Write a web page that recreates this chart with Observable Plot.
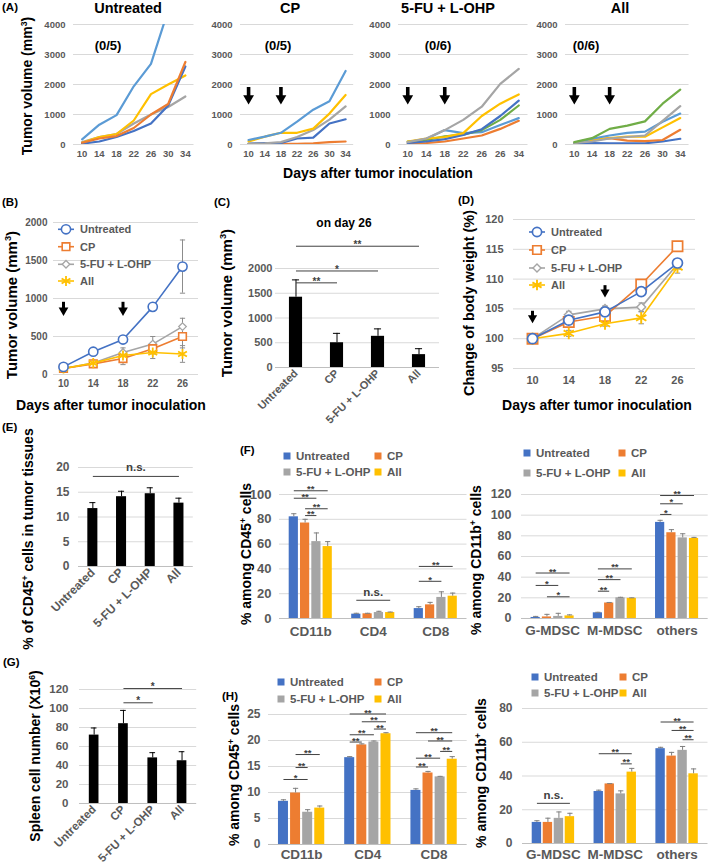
<!DOCTYPE html>
<html><head><meta charset="utf-8">
<script src="https://cdn.jsdelivr.net/npm/d3@7"></script>
<script src="https://cdn.jsdelivr.net/npm/@observablehq/plot@0.6"></script>
<style>
html,body{margin:0;padding:0;background:#fff;}
#root{position:relative;width:709px;height:865px;overflow:hidden;background:#fff;font-family:"Liberation Sans",Arial,Helvetica,sans-serif;}
.t{position:absolute;white-space:nowrap;line-height:1;}
.t sup{font-size:0.62em;vertical-align:0.55em;line-height:0;}
</style></head>
<body><div id="root"></div>
<script>
// ---------------- DATA ----------------
const groups = ["Untreated", "CP", "5-FU + L-OHP", "All"];
const groupColors = ["#4472C4", "#ED7D31", "#A5A5A5", "#FFC000"];
const mouseColor = {lightblue: "#5B9BD5", darkblue: "#4472C4", orange: "#ED7D31", gray: "#A5A5A5", yellow: "#FFC000", green: "#70AD47"};

// (A) individual tumour growth, days 10..34
const A_tickLabels = ["10", "14", "18", "22", "26", "30", "34"];
const A_tickLabels5FU = ["10", "14", "18", "22", "26", "26", "34"];
const A_yTicks = [0, 1000, 2000, 3000, 4000];
const A_untreatedKeys = ["gray", "yellow", "darkblue", "orange", "lightblue"];
const A_untreated = [
  [80, 250, 350, 700, 1000, 1250, 1600],
  [60, 250, 350, 800, 1680, 2000, 2300],
  [30, 100, 250, 450, 700, 1300, 2600],
  [60, 200, 280, 550, 1000, 1350, 2750],
  [170, 660, 980, 1940, 2690, 4470]
];
const A_cpKeys = ["orange", "darkblue", "gray", "yellow", "lightblue"];
const A_cp = [
  [10, 15, 20, 20, 40, 80, 100],
  [30, 50, 50, 200, 230, 700, 840],
  [20, 40, 80, 250, 480, 830, 1270],
  [100, 260, 390, 390, 530, 1030, 1650],
  [150, 260, 390, 760, 1160, 1440, 2450]
];
const A_5fuKeys = ["orange", "lightblue", "green", "darkblue", "yellow", "gray"];
const A_5fu = [
  [30, 50, 100, 200, 300, 520, 790],
  [80, 180, 480, 380, 410, 650, 880],
  [100, 150, 270, 330, 480, 820, 1300],
  [50, 100, 180, 320, 510, 950, 1460],
  [100, 200, 250, 380, 950, 1360, 1670],
  [80, 200, 480, 820, 1260, 2020, 2520]
];
const A_allKeys = ["darkblue", "orange", "yellow", "lightblue", "gray", "green"];
const A_all = [
  [30, 50, 40, 40, 40, 100, 190],
  [60, 150, 210, 130, 110, 150, 490],
  [60, 150, 210, 260, 260, 570, 880],
  [60, 190, 300, 390, 430, 760, 1030],
  [50, 100, 200, 250, 300, 790, 1280],
  [80, 210, 520, 630, 770, 1360, 1830]
];
const A_arrowIdx = [0, 2];

// (B) mean tumour volume
const B_days = [10, 14, 18, 22, 26];
const B_mean = [
  [100, 300, 460, 890, 1420],
  [80, 140, 210, 340, 500],
  [80, 150, 290, 400, 630],
  [80, 150, 250, 290, 270]
];
const B_err = [
  [20, 30, 40, 40, 350],
  [10, 20, 80, 70, 150],
  [10, 20, 60, 100, 110],
  [10, 20, 40, 80, 110]
];
const B_yTicks = [0, 500, 1000, 1500, 2000];
const B_arrowDays = [10, 18];

// (C) tumour volume on day 26
const C_vals = [1420, 500, 630, 260];
const C_errs = [350, 190, 150, 120];
const C_yTicks = [0, 500, 1000, 1500, 2000];
const C_sig = [[0, 3, 2450, "**"], [0, 2, 1950, "*"], [0, 1, 1710, "**"]];

// (D) body weight change
const D_days = [10, 14, 18, 22, 26];
const D_mean = [
  [100, 103.1, 104.5, 107.9, 112.7],
  [100, 102.8, 103.8, 109.1, 115.5],
  [100, 104.0, 105.0, 105.3, 112.5],
  [100, 100.9, 102.5, 103.5, 112.0]
];
const D_err = [
  [0, 0.4, 0.5, 0.5, 0.6],
  [0, 0.5, 0.5, 0.6, 0.6],
  [0, 0.6, 0.5, 0.7, 0.8],
  [0, 0.5, 0.4, 1.0, 1.0]
];
const D_yTicks = [95, 100, 105, 110, 115, 120];
const D_arrows = [{day: 10, top: 104.6, head: 103.5}, {day: 18, top: 108.9, head: 107.8}];

// (E) CD45+ cells in tumour
const E_vals = [11.7, 14.1, 14.7, 12.8];
const E_errs = [1.2, 1.1, 1.2, 1.0];
const E_yTicks = [0, 5, 10, 15, 20];
const E_sig = [[0, 3, 18.2, "n.s."]];

// (F) tumour subsets
const F1_cats = ["CD11b", "CD4", "CD8"];
const F1_vals = [[82, 3.5, 8], [77, 3.8, 11], [62, 4.8, 17], [58, 4.8, 18]];
const F1_errs = [[2.5, 0.7, 1.5], [3, 0.4, 2], [7, 1, 4.5], [4, 0.4, 2.5]];
const F1_yTicks = [0, 20, 40, 60, 80, 100];
const F1_sig = [[0, 0, 3, 103, "**"], [0, 0, 2, 97, "**"], [0, 1, 3, 88.5, "**"], [0, 1, 2, 83, "**"],
  [1, 0, 3, 14.7, "n.s."], [2, 0, 3, 42, "**"], [2, 0, 2, 30, "*"]];
const F2_cats = ["G-MDSC", "M-MDSC", "others"];
const F2_vals = [[1, 5.5, 93], [1.5, 15, 83], [2, 20, 78], [2.5, 19.5, 77.5]];
const F2_errs = [[1, 0.5, 2], [2.5, 0.5, 3], [3, 0.5, 4], [1, 0.5, 1]];
const F2_yTicks = [0, 20, 40, 60, 80, 100, 120];
const F2_sig = [[0, 0, 3, 44, "**"], [0, 0, 2, 32, "*"], [0, 1, 3, 21, "*"],
  [1, 0, 3, 48, "**"], [1, 0, 2, 37.6, "**"], [1, 0, 1, 26.4, "**"],
  [2, 0, 3, 119, "**"], [2, 0, 2, 111, "*"], [2, 0, 1, 100.7, "*"]];

// (G) spleen cell number
const G_vals = [72, 84, 48, 45];
const G_errs = [7.5, 14, 5.5, 9.5];
const G_yTicks = [0, 20, 40, 60, 80, 100, 120];
const G_sig = [[1, 3, 121, "*"], [1, 2, 106, "*"]];

// (H) spleen subsets
const H1_cats = ["CD11b", "CD4", "CD8"];
const H1_vals = [[8.3, 16.7, 10.4], [9.9, 19.15, 13.75], [6.2, 19.7, 13.0], [7.0, 21.3, 16.4]];
const H1_errs = [[0.3, 0.2, 0.3], [0.9, 0.2, 0.3], [0.5, 0.2, 0.1], [0.4, 0.2, 0.5]];
const H1_yTicks = [0, 5, 10, 15, 20, 25];
const H1_sig = [[0, 0, 2, 12.5, "*"], [0, 1, 2, 14.8, "**"], [0, 1, 3, 17.3, "**"],
  [1, 0, 3, 25.1, "**"], [1, 1, 3, 23.6, "**"], [1, 2, 3, 22.2, "**"], [1, 0, 2, 21.1, "**"], [1, 0, 1, 19.7, "**"],
  [2, 0, 3, 21.5, "**"], [2, 1, 3, 19.9, "**"], [2, 2, 3, 17.9, "**"], [2, 0, 2, 16.6, "**"], [2, 0, 1, 14.9, "**"]];
const H2_cats = ["G-MDSC", "M-MDSC", "others"];
const H2_vals = [[12.5, 30.8, 56.2], [12.5, 35.3, 51.8], [14.9, 29.4, 55.2], [15.9, 42.3, 41.3]];
const H2_errs = [[1, 0.8, 0.8], [2.5, 0.2, 2.2], [3.8, 1.8, 2.3], [2, 2.2, 2.9]];
const H2_yTicks = [0, 20, 40, 60, 80];
const H2_sig = [[0, 0, 3, 23.8, "n.s."], [1, 0, 3, 53.2, "**"], [1, 2, 3, 47.2, "**"],
  [2, 0, 3, 72, "**"], [2, 1, 3, 67, "**"], [2, 2, 3, 61.5, "**"]];

// ---------------- HELPERS ----------------
const FONT = '"Liberation Sans", Arial, Helvetica, sans-serif';
const root = document.getElementById("root");
const GRID = "#d9d9d9", AXIS = "#bfbfbf", TICK = "#595959", SIG = "#404040";
const plain = d => String(d);

function label(html, x, y, size, {rotate = 0, anchor = "middle", color = "#000", weight = "bold"} = {}) {
  const d = document.createElement("div");
  d.className = "t";
  d.innerHTML = html;
  d.style.left = x + "px";
  d.style.top = y + "px";
  d.style.fontSize = size + "px";
  d.style.fontWeight = weight;
  d.style.color = color;
  const tx = anchor === "start" ? "0" : anchor === "end" ? "-100%" : "-50%";
  d.style.transform = `translate(${tx}, -50%) rotate(${rotate}deg)`;
  root.appendChild(d);
}

function mount(opts, x0, y0, x1, y1, m, fs) {
  const [ml, mt, mr, mb] = m;
  const svg = Plot.plot({
    ...opts,
    width: x1 - x0 + ml + mr,
    height: y1 - y0 + mt + mb,
    marginLeft: ml, marginTop: mt, marginRight: mr, marginBottom: mb,
    style: {background: "transparent", overflow: "visible", fontFamily: FONT, fontWeight: "bold", color: TICK, fontSize: fs + "px"}
  });
  svg.style.position = "absolute";
  svg.style.left = (x0 - ml) + "px";
  svg.style.top = (y0 - mt) + "px";
  svg.style.maxWidth = "none";
  root.appendChild(svg);
}

function arrowMarks(data, r, sw) {
  return [
    Plot.ruleX(data, {x: "x", y1: "top", y2: "head", stroke: "#000", strokeWidth: sw}),
    Plot.dot(data, {x: "x", y: "head", symbol: "triangle", r, rotate: 180, fill: "#000", stroke: "none"})
  ];
}

// ---------------- (A) ----------------
function panelA(keys, values, tickLabels, withArrows, x0, x1) {
  const data = values.flatMap((vals, s) => vals.map((v, i) => ({s, i, v, c: mouseColor[keys[s]]})));
  const marks = [
    Plot.ruleY(A_yTicks, {stroke: GRID}),
    Plot.line(data, {x: "i", y: "v", z: "s", stroke: "c", strokeWidth: 2.2, clip: true})
  ];
  if (withArrows) marks.push(...arrowMarks(A_arrowIdx.map(x => ({x, top: 1900, head: 1540})), 4, 3.6));
  mount({
    color: {type: "identity"},
    x: {domain: [-0.5, 6.5], ticks: d3.range(7), tickFormat: i => tickLabels[i], tickSize: 0, tickPadding: 6, label: null},
    y: {domain: [0, 4000], ticks: A_yTicks, tickFormat: plain, tickSize: 0, tickPadding: 8, label: null},
    marks
  }, x0, 24, x1, 144, [40, 4, 4, 20], 9.5);
}
panelA(A_untreatedKeys, A_untreated, A_tickLabels, false, 73.1, 193.6);
panelA(A_cpKeys, A_cp, A_tickLabels, true, 239.9, 353.1);
panelA(A_5fuKeys, A_5fu, A_tickLabels5FU, true, 397.75, 527.25);
panelA(A_allKeys, A_all, A_tickLabels, true, 565.2, 688.8);

// ---------------- (B) & (D) line panels ----------------
function linePanel({days, means, errs, x0, x1, y0, y1, xdom, ydom, yticks, syms, arrows, arrowR, capHalf, tp, txp, fs}) {
  const rows = means.flatMap((arr, g) => arr.map((v, i) => ({g, day: days[i], v, lo: v - errs[g][i], hi: v + errs[g][i], c: groupColors[g]})));
  const marks = [
    Plot.ruleY(yticks, {stroke: GRID}),
    Plot.ruleX(rows, {x: "day", y1: "lo", y2: "hi", stroke: "#8c8c8c"}),
    Plot.link(rows, {x1: d => d.day - capHalf, x2: d => d.day + capHalf, y1: "hi", y2: "hi", stroke: "#8c8c8c"}),
    Plot.link(rows, {x1: d => d.day - capHalf, x2: d => d.day + capHalf, y1: "lo", y2: "lo", stroke: "#8c8c8c"})
  ];
  for (const g of [2, 1, 3, 0]) {
    const sub = rows.filter(d => d.g === g);
    const [symbol, r, sw] = syms[g];
    marks.push(Plot.line(sub, {x: "day", y: "v", stroke: groupColors[g], strokeWidth: 1.6}));
    marks.push(Plot.dot(sub, {x: "day", y: "v", symbol, r, stroke: groupColors[g], strokeWidth: sw, fill: symbol === "asterisk" ? "none" : "white"}));
  }
  marks.push(...arrowMarks(arrows, arrowR, 3));
  mount({
    color: {type: "identity"},
    x: {domain: xdom, ticks: days, tickSize: 0, tickPadding: txp, label: null},
    y: {domain: ydom, ticks: yticks, tickFormat: plain, tickSize: 0, tickPadding: tp, label: null},
    marks
  }, x0, y0, x1, y1, [40, 10, 6, 22], fs);
}

linePanel({
  days: B_days, means: B_mean, errs: B_err, x0: 53, x1: 198, y0: 222, y1: 374,
  xdom: [8.656, 28.15], ydom: [0, 2000], yticks: B_yTicks,
  syms: [["circle", 4.6, 1.6], ["square", 4.3, 1.6], ["diamond2", 3.4, 1.3], ["asterisk", 4.8, 1.8]],
  arrows: B_arrowDays.map(x => ({x, top: 950, head: 845})), arrowR: 3.6, capHalf: 0.35, tp: 6, txp: 5, fs: 10
});

linePanel({
  days: D_days, means: D_mean, errs: D_err, x0: 513, x1: 695, y0: 219, y1: 368,
  xdom: [7.9, 27.99], ydom: [95, 120], yticks: D_yTicks,
  syms: [["circle", 5, 1.7], ["square", 5.8, 1.7], ["diamond2", 4, 1.4], ["asterisk", 5.6, 1.9]],
  arrows: D_arrows.map(d => ({x: d.day, top: d.top, head: d.head})), arrowR: 3.4, capHalf: 0.3, tp: 10, txp: 8, fs: 11
});

// ---------------- bar charts with one bar per group ----------------
function bandBars({vals, errs, sig, x0, x1, y0, y1, ydom, yticks, pi, po, tp, fs, capInset, sigFs, mb}) {
  const cats = groups;
  const data = cats.map((c, i) => ({c, v: vals[i], t: vals[i] + errs[i]}));
  const step = (x1 - x0) / (cats.length - pi + 2 * po);
  const S = sig.map(([a, b, lvl, t]) => ({a: cats[a], b: cats[b], ia: a, ib: b, lvl, t}));
  const marks = [
    Plot.ruleY(yticks.filter(d => d > 0), {stroke: GRID}),
    Plot.ruleY([0], {stroke: AXIS}),
    Plot.barY(data, {x: "c", y: "v", fill: "#000"}),
    Plot.ruleX(data, {x: "c", y1: "v", y2: "t", stroke: "#000"}),
    Plot.tickY(data, {x: "c", y: "t", stroke: "#000", insetLeft: capInset, insetRight: capInset}),
    Plot.link(S, {x1: "a", x2: "b", y1: "lvl", y2: "lvl", stroke: SIG})
  ];
  for (const s of S) {
    const ns = s.t === "n.s.";
    marks.push(Plot.text([s], {x: "a", y: "lvl", text: "t", dx: (s.ib - s.ia) * step / 2, dy: ns ? -9 : -1.5,
      fontSize: ns ? 11.5 : sigFs, fill: SIG}));
  }
  mount({
    x: {domain: cats, paddingInner: pi, paddingOuter: po, round: false, tickRotate: -45, tickSize: 0, tickPadding: 4, label: null},
    y: {domain: ydom, ticks: yticks, tickFormat: plain, tickSize: 0, tickPadding: tp, label: null},
    marks
  }, x0, y0, x1, y1, [40, 30, 6, mb], fs);
}

bandBars({vals: C_vals, errs: C_errs, sig: C_sig, x0: 274.5, x1: 438.5, y0: 268, y1: 367,
  ydom: [0, 2000], yticks: C_yTicks, pi: 0.68, po: 0.34, tp: 3, fs: 11, capInset: 3, sigFs: 10, mb: 66});
bandBars({vals: E_vals, errs: E_errs, sig: E_sig, x0: 77.7, x1: 192.5, y0: 467, y1: 566,
  ydom: [0, 20], yticks: E_yTicks, pi: 0.65, po: 0.325, tp: 9, fs: 12, capInset: 2, sigFs: 10, mb: 66});
bandBars({vals: G_vals, errs: G_errs, sig: G_sig, x0: 79.4, x1: 196.6, y0: 689, y1: 803,
  ydom: [0, 120], yticks: G_yTicks, pi: 0.67, po: 0.335, tp: 11, fs: 11.5, capInset: 2, sigFs: 10, mb: 60});

// ---------------- grouped bar charts ----------------
function groupedBars({cats, vals, errs, sig, x0, x1, y0, y1, ydom, yticks, stepPx, hwPx, tp, fs, catFs, catDy}) {
  const unit = (x1 - x0) / 3;
  const st = stepPx / unit, hw = hwPx / unit, cw = 2.6 / unit;
  const pos = (g, s) => g + (s - 1.5) * st;
  const bars = vals.flatMap((arr, s) => arr.map((v, g) => ({s, g, v, t: v + errs[s][g], x: pos(g, s), c: groupColors[s]})));
  const S = sig.map(([g, a, b, lvl, t]) => ({xa: pos(g, a), xb: pos(g, b), lvl, t}));
  mount({
    color: {type: "identity"},
    x: {domain: [-0.5, 2.5], axis: null},
    y: {domain: ydom, ticks: yticks, tickFormat: plain, tickSize: 0, tickPadding: tp, label: null},
    marks: [
      Plot.ruleY(yticks.filter(d => d > 0), {stroke: GRID}),
      Plot.ruleY([0], {stroke: AXIS}),
      Plot.rectY(bars, {x1: d => d.x - hw, x2: d => d.x + hw, y1: 0, y2: "v", fill: "c"}),
      Plot.ruleX(bars, {x: "x", y1: "v", y2: "t", stroke: "#7f7f7f"}),
      Plot.link(bars, {x1: d => d.x - cw, x2: d => d.x + cw, y1: "t", y2: "t", stroke: "#7f7f7f"}),
      Plot.link(S, {x1: "xa", x2: "xb", y1: "lvl", y2: "lvl", stroke: SIG}),
      Plot.text(S.filter(d => d.t !== "n.s."), {x: d => (d.xa + d.xb) / 2, y: "lvl", text: "t", dy: -1.5, fontSize: 9.5, fill: SIG}),
      Plot.text(S.filter(d => d.t === "n.s."), {x: d => (d.xa + d.xb) / 2, y: "lvl", text: "t", dy: -8, fontSize: 11.5, fill: SIG}),
      Plot.text(cats, {x: (d, i) => i, frameAnchor: "bottom", dy: catDy, text: d => d, fontSize: catFs, fill: TICK})
    ]
  }, x0, y0, x1, y1, [45, 30, 1, 22], fs);
}

groupedBars({cats: F1_cats, vals: F1_vals, errs: F1_errs, sig: F1_sig, x0: 278.75, x1: 466.25, y0: 494, y1: 618,
  ydom: [0, 100], yticks: F1_yTicks, stepPx: 11.3, hwPx: 4.6, tp: 8, fs: 13, catFs: 13.5, catDy: 17});
groupedBars({cats: F2_cats, vals: F2_vals, errs: F2_errs, sig: F2_sig, x0: 520.9, x1: 707.6, y0: 494, y1: 618,
  ydom: [0, 120], yticks: F2_yTicks, stepPx: 11.3, hwPx: 4.6, tp: 10, fs: 12.5, catFs: 13.5, catDy: 17});
groupedBars({cats: H1_cats, vals: H1_vals, errs: H1_errs, sig: H1_sig, x0: 267.9, x1: 466.6, y0: 714, y1: 844,
  ydom: [0, 25], yticks: H1_yTicks, stepPx: 12.1, hwPx: 5, tp: 8, fs: 12, catFs: 13.5, catDy: 15});
groupedBars({cats: H2_cats, vals: H2_vals, errs: H2_errs, sig: H2_sig, x0: 522, x1: 707.5, y0: 708, y1: 843,
  ydom: [0, 80], yticks: H2_yTicks, stepPx: 11, hwPx: 4.7, tp: 10, fs: 12, catFs: 13.5, catDy: 15});

// ---------------- legends (overlay) ----------------
const overlay = d3.create("svg").attr("width", 709).attr("height", 865)
  .style("position", "absolute").style("left", "0px").style("top", "0px")
  .style("font-family", FONT).style("font-weight", "bold");

function lineLegend(cx, ys, fs, syms) {
  groups.forEach((g, i) => {
    const y = ys[i];
    overlay.append("line").attr("x1", cx - 8).attr("x2", cx + 8).attr("y1", y).attr("y2", y)
      .attr("stroke", groupColors[i]).attr("stroke-width", 1.6);
    const [type, r, sw] = syms[i];
    overlay.append("path").attr("transform", `translate(${cx},${y})`).attr("d", d3.symbol(type, Math.PI * r * r)())
      .attr("fill", type === d3.symbolAsterisk ? "none" : "white").attr("stroke", groupColors[i]).attr("stroke-width", sw);
    overlay.append("text").attr("x", cx + 14).attr("y", y).attr("dy", "0.36em").attr("font-size", fs)
      .attr("fill", TICK).text(g);
  });
}
lineLegend(66, [229.3, 246.7, 264.3, 281], 11,
  [[d3.symbolCircle, 4.6, 1.6], [d3.symbolSquare, 4.3, 1.6], [d3.symbolDiamond2, 3.4, 1.3], [d3.symbolAsterisk, 4.8, 1.8]]);
lineLegend(537, [232, 250, 268, 285], 11,
  [[d3.symbolCircle, 4.6, 1.7], [d3.symbolSquare, 4.8, 1.7], [d3.symbolDiamond2, 3.6, 1.4], [d3.symbolAsterisk, 5, 1.9]]);

function squareLegend(xs, ys, fs) {
  groups.forEach((g, i) => {
    const x = xs[i % 2], y = ys[Math.floor(i / 2)];
    overlay.append("rect").attr("x", x - 3.5).attr("y", y - 3.5).attr("width", 7).attr("height", 7).attr("fill", groupColors[i]);
    overlay.append("text").attr("x", x + 9).attr("y", y).attr("dy", "0.36em").attr("font-size", fs).attr("fill", TICK).text(g);
  });
}
squareLegend([287, 378], [456, 472], 11.5);
squareLegend([527, 622], [453, 473], 11.5);
squareLegend([281, 378], [682, 699], 11.5);
squareLegend([535, 623], [677, 693], 11.5);
root.appendChild(overlay.node());

// ---------------- text labels ----------------
const PL = 11.5;
label("(A)", 2, 8, PL, {anchor: "start"});
label("Untreated", 128, 8, 14.5);
label("CP", 290, 8, 14.5);
label("5-FU + L-OHP", 448, 8, 14.5);
label("All", 620, 8, 14.5);
label("(0/5)", 108, 45, 13);
label("(0/5)", 278, 45, 13);
label("(0/6)", 438, 45, 13);
label("(0/6)", 586, 45, 13);
label("Tumor volume (mm<sup>3</sup>)", 27, 86, 14, {rotate: -90});
label("Days after tumor inoculation", 378, 173, 14);

label("(B)", 2, 203, PL, {anchor: "start"});
label("Tumor volume (mm<sup>3</sup>)", 11, 305, 15, {rotate: -90});
label("Days after tumor inoculation", 111, 405, 14);
label("(C)", 214, 203, PL, {anchor: "start"});
label("on day 26", 344, 223, 12);
label("Tumor volume (mm<sup>3</sup>)", 226, 303, 15, {rotate: -90});
label("(D)", 458, 201, PL, {anchor: "start"});
label("Change of body weight (%)", 469, 303, 14.5, {rotate: -90});
label("Days after tumor inoculation", 597, 405, 14);

label("(E)", 2, 428, PL, {anchor: "start"});
label("% of CD45<sup>+</sup> cells in tumor tissues", 28, 539, 14, {rotate: -90});
label("(F)", 240, 451, PL, {anchor: "start"});
label("% among CD45<sup>+</sup> cells", 246, 554, 14, {rotate: -90});
label("% among CD11b<sup>+</sup> cells", 476, 560, 14, {rotate: -90});

label("(G)", 3, 663, PL, {anchor: "start"});
label("Spleen cell number (X10<sup>6</sup>)", 35, 756, 14, {rotate: -90});
label("(H)", 222, 697, PL, {anchor: "start"});
label("% among CD45<sup>+</sup> cells", 234, 775, 14, {rotate: -90});
label("% among CD11b<sup>+</sup> cells", 481, 773, 14, {rotate: -90});
</script>
</body></html>
